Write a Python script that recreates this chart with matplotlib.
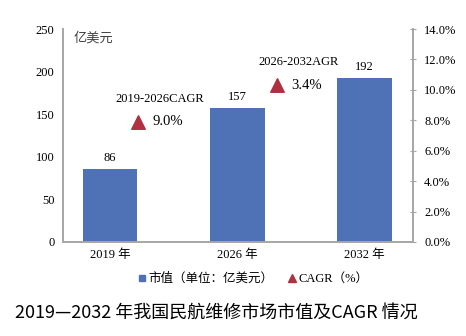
import matplotlib
matplotlib.use("Agg")
import matplotlib.pyplot as plt

plt.rcParams['font.family'] = ['Liberation Serif', 'Noto Sans CJK SC']
plt.rcParams['axes.unicode_minus'] = False

# 데이터
years = ['2019 年', '2026 年', '2032 年']
market = [86, 157, 192]
cagr_labels = ['2019-2026CAGR', '2026-2032AGR']
cagr_values = [9.0, 3.4]
cagr_x = [0.22, 1.31]        # 막대 사이 위치 (카테고리 단위)
cagr_y = [7.9, 10.3]         # 오른쪽 축에서 삼각형 높이 (%)

bar_color = '#4F72B6'
tri_color = '#B03042'
grey = '#A6A6A6'

fig = plt.figure(figsize=(4.66, 3.36), dpi=100)
ax = fig.add_axes([63/466, 1-242/336, 350/466, 213/336])
ax2 = ax.twinx()

x = range(len(years))
ax.bar(x, market, width=0.43, color=bar_color, zorder=2)
for i, v in enumerate(market):
    ax.text(i, v + 6, str(v), ha='center', va='bottom', fontsize=9)

ax.set_xlim(-0.37, 2.38)
ax.set_ylim(0, 250)
ax.set_yticks(range(0, 251, 50))
ax.set_xticks(list(x))
ax.set_xticklabels(years, fontsize=9)
ax.tick_params(axis='y', length=0, labelsize=9, pad=6)
ax.tick_params(axis='x', length=0, pad=5)
ax.text(0.03, 0.99, '亿美元', transform=ax.transAxes, ha='left', va='top', fontsize=9.5,
        family=['Noto Sans CJK SC'], color='#404040')

# CAGR 삼각형
ax2.scatter(cagr_x, cagr_y, marker='^', s=95, color=tri_color, zorder=3)
for xi, yi, lab, val in zip(cagr_x, cagr_y, cagr_labels, cagr_values):
    ax2.text(xi + 0.11, yi, '%.1f%%' % val, ha='left', va='center', fontsize=10.5)
    ax2.text(xi + 0.17, yi + 1.5, lab, ha='center', va='center', fontsize=9)
ax2.set_ylim(0, 14)
ax2.set_yticks([0, 2, 4, 6, 8, 10, 12, 14])
ax2.set_yticklabels(['%.1f%%' % t for t in [0, 2, 4, 6, 8, 10, 12, 14]], fontsize=9)
ax2.tick_params(axis='y', direction='inout', length=4, color=grey, pad=6)

for a in (ax, ax2):
    a.spines['top'].set_visible(False)
    for s in ('left', 'right', 'bottom'):
        a.spines[s].set_color(grey)
        a.spines[s].set_linewidth(1.2)

# 범례
h1 = plt.Line2D([], [], marker='s', color=bar_color, linestyle='', markersize=5)
h2 = plt.Line2D([], [], marker='^', color=tri_color, linestyle='', markersize=6)
fig.legend([h1, h2], ['市值（单位：亿美元）', 'CAGR（%）'], loc='center',
           bbox_to_anchor=(252/466, 1-279/336), ncol=2, frameon=False,
           handletextpad=0.0, columnspacing=1.0, handlelength=1.0,
           prop={'family': ['Liberation Serif', 'Noto Sans CJK SC'], 'size': 9})

fig.text(15/466, 1-313/336, '2019—2032 年我国民航维修市场市值及CAGR 情况', ha='left', va='center',
         fontsize=13, family=['Noto Sans CJK SC'])

fig.savefig('out.png', dpi=100)
